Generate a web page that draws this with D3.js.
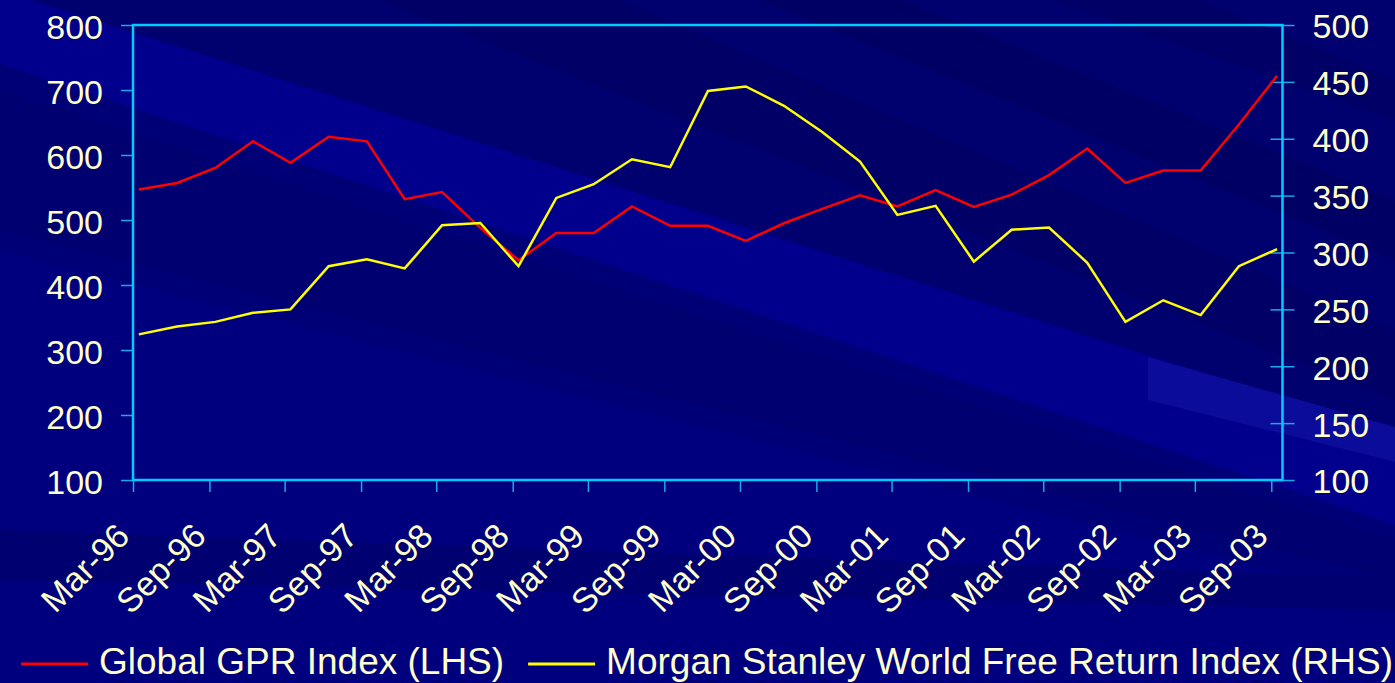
<!DOCTYPE html>
<html>
<head>
<meta charset="utf-8">
<script src="https://cdn.jsdelivr.net/npm/d3@7"></script>
<style>
  html, body { margin: 0; padding: 0; background: #000080; overflow: hidden; }
  svg { display: block; }
  text { font-family: "Liberation Sans", Arial, sans-serif; fill: #FFFFCC; }
</style>
</head>
<body>
<svg id="chart" width="1395" height="683"></svg>
<script>
// ---------------- DATA ----------------
const quarters = [
  "Mar-96","Jun-96","Sep-96","Dec-96",
  "Mar-97","Jun-97","Sep-97","Dec-97",
  "Mar-98","Jun-98","Sep-98","Dec-98",
  "Mar-99","Jun-99","Sep-99","Dec-99",
  "Mar-00","Jun-00","Sep-00","Dec-00",
  "Mar-01","Jun-01","Sep-01","Dec-01",
  "Mar-02","Jun-02","Sep-02","Dec-02",
  "Mar-03","Jun-03","Sep-03"
];
const gprIndex = [
  547, 557, 580, 621, 588, 628, 621, 532,
  543, 488, 438, 480, 480, 521, 491, 491,
  468, 495, 517, 538, 521, 546, 520, 539,
  569, 610, 557, 576, 576, 647, 722
];
const msciIndex = [
  228, 235, 239, 247, 250, 288, 294, 286,
  324, 326, 288, 348, 360, 382, 375, 442,
  446, 429, 406, 380, 333, 341, 292, 320,
  322, 291, 239, 258, 245, 288, 303
];
const xTickLabels = [
  "Mar-96","Sep-96","Mar-97","Sep-97","Mar-98","Sep-98","Mar-99","Sep-99",
  "Mar-00","Sep-00","Mar-01","Sep-01","Mar-02","Sep-02","Mar-03","Sep-03"
];
const leftTicks = [100, 200, 300, 400, 500, 600, 700, 800];
const rightTicks = [100, 150, 200, 250, 300, 350, 400, 450, 500];
const seriesNames = ["Global GPR Index (LHS)", "Morgan Stanley World Free Return Index (RHS)"];

// ---------------- LAYOUT ----------------
const W = 1395, H = 683;
const plot = { left: 133, right: 1282.5, top: 25, bottom: 480 };
const axisColor = "#00CCFF";
const tickColor = "#1AA8E8";

const svg = d3.select("#chart");
const parse = d3.timeParse("%b-%y");
const pointDate = s => d3.timeDay.offset(parse(s), 14);

// ---------------- BACKGROUND (decorative) ----------------
const bg = svg.append("g");
bg.append("rect").attr("width", W).attr("height", H).attr("fill", "#00007E");
const bands = [
  { pts: [[0,0],[1395,0],[1395,434],[0,-10]], fill: "#00006E" },               // dark upper area
  { pts: [[380,0],[620,0],[1395,330],[1395,400]], fill: "#000066" },           // darker stripe
  { pts: [[760,0],[900,0],[1395,200],[1395,260]], fill: "#000064" },           // darker stripe
  { pts: [[1050,0],[1200,0],[1395,80],[1395,120]], fill: "#000066" },
  { pts: [[0,-10],[1395,434],[1395,525],[0,64]], fill: "#00008C" },            // light band
  { pts: [[1148,357],[1395,427],[1395,462],[1148,400]], fill: "#0C0C9A" },     // lightest patch
  { pts: [[0,64],[1395,525],[1395,600],[0,250]], fill: "#000076" },            // darker below
  { pts: [[0,90],[1395,540],[1395,580],[0,230]], fill: "#000070" },            // darkest left band
  { pts: [[0,530],[1395,578],[1395,610],[0,580]], fill: "#000070" }            // band under axis
];
bg.selectAll("polygon").data(bands).join("polygon")
  .attr("points", d => d.pts.map(p => p.join(",")).join(" "))
  .attr("fill", d => d.fill);

// ---------------- SCALES ----------------
const x = d3.scaleTime()
  .domain([parse("Mar-96"), d3.timeDay.offset(parse("Sep-03"), 27)])
  .range([plot.left, plot.right]);
const yL = d3.scaleLinear().domain([100, 800]).range([plot.bottom, plot.top]);
const yR = d3.scaleLinear().domain([100, 500]).range([plot.bottom, plot.top]);

// ---------------- AXES ----------------
const fontSize = 34;

const gL = svg.append("g").attr("transform", `translate(${plot.left},0)`)
  .call(d3.axisLeft(yL).tickValues(leftTicks).tickSize(12).tickPadding(18).tickFormat(d3.format("d")));
gL.select(".domain").remove();
gL.selectAll(".tick line").attr("stroke", tickColor).attr("stroke-width", 1.5);
gL.selectAll(".tick text").attr("font-size", fontSize).attr("dy", "0.4em").attr("fill", "#FFFFCC");

const gR = svg.append("g").attr("transform", `translate(${plot.right},0)`)
  .call(d3.axisRight(yR).tickValues(rightTicks).tickSize(12).tickPadding(18).tickFormat(d3.format("d")));
gR.select(".domain").remove();
gR.selectAll(".tick line").attr("x1", -12).attr("stroke", tickColor).attr("stroke-width", 1.5);
gR.selectAll(".tick text").attr("font-size", fontSize).attr("dy", "0.38em").attr("fill", "#FFFFCC");

const gB = svg.append("g").attr("transform", `translate(0,${plot.bottom})`)
  .call(d3.axisBottom(x).tickValues(xTickLabels.map(parse)).tickSize(12).tickFormat(d3.timeFormat("%b-%y")));
gB.select(".domain").remove();
gB.selectAll(".tick line").attr("stroke", tickColor).attr("stroke-width", 1.5);
gB.selectAll(".tick text")
  .attr("font-size", fontSize)
  .attr("fill", "#FFFFCC")
  .attr("text-anchor", "end")
  .attr("x", 0).attr("y", 0).attr("dy", 0)
  .attr("transform", "translate(-2,58) rotate(-45)");

// plot frame
svg.append("rect")
  .attr("x", plot.left).attr("y", plot.top)
  .attr("width", plot.right - plot.left).attr("height", plot.bottom - plot.top)
  .attr("fill", "none").attr("stroke", axisColor).attr("stroke-width", 2.5);

// ---------------- LINES ----------------
const lineL = d3.line().x((d, i) => x(pointDate(quarters[i]))).y(d => yL(d));
const lineR = d3.line().x((d, i) => x(pointDate(quarters[i]))).y(d => yR(d));

svg.append("path").datum(gprIndex)
  .attr("d", lineL).attr("fill", "none").attr("stroke", "#FF0000")
  .attr("stroke-width", 2.5).attr("stroke-linejoin", "miter");
svg.append("path").datum(msciIndex)
  .attr("d", lineR).attr("fill", "none").attr("stroke", "#FFFF00")
  .attr("stroke-width", 2.5).attr("stroke-linejoin", "miter");

// ---------------- LEGEND ----------------
const legendColors = ["#FF0000", "#FFFF00"];
const lg = svg.append("g");
let cx = 21;
seriesNames.forEach((name, i) => {
  lg.append("line")
    .attr("x1", cx).attr("x2", cx + 67).attr("y1", 664).attr("y2", 664)
    .attr("stroke", legendColors[i]).attr("stroke-width", 3);
  const t = lg.append("text")
    .attr("x", cx + 78).attr("y", 674)
    .attr("font-size", 37).attr("fill", "#FFFFCC")
    .text(name);
  cx = cx + 78 + t.node().getComputedTextLength() + 24;
});
</script>
</body>
</html>
